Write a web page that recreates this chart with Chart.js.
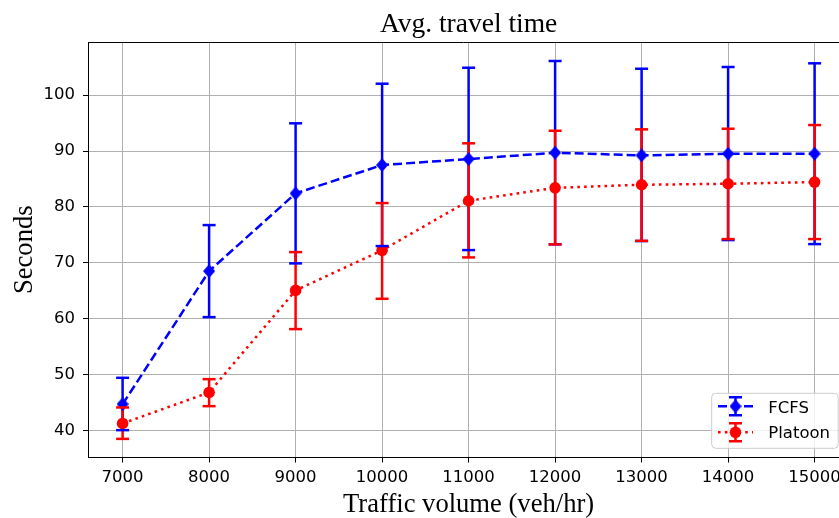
<!DOCTYPE html>
<html>
<head>
<meta charset="utf-8">
<script src="https://cdn.jsdelivr.net/npm/chart.js@4.4.1/dist/chart.umd.min.js"></script>
<style>
html, body { margin: 0; padding: 0; background: #ffffff; overflow: hidden; }
#wrap { width: 839px; height: 518px; }
</style>
</head>
<body>
<div id="wrap"><canvas id="c" width="839" height="518"></canvas></div>
<script>
// ---- data ----
const trafficVolume = [7000, 8000, 9000, 10000, 11000, 12000, 13000, 14000, 15000];
const fcfsMean  = [44.74, 68.53, 82.43, 87.50, 88.57, 89.70, 89.23, 89.52, 89.52];
const fcfsUpper = [49.45, 76.76, 94.96, 102.04, 104.90, 106.10, 104.72, 105.03, 105.69];
const fcfsLower = [40.09, 60.30, 69.91, 73.01, 72.29, 73.31, 73.90, 74.08, 73.36];
const platoonMean  = [41.29, 46.83, 65.08, 72.24, 81.11, 83.43, 83.97, 84.15, 84.45];
const platoonUpper = [44.15, 49.21, 71.93, 80.70, 91.38, 93.63, 93.88, 93.99, 94.65];
const platoonLower = [38.53, 44.38, 58.16, 63.58, 70.98, 73.31, 73.95, 74.26, 74.26];
const xTickValues = [7000, 8000, 9000, 10000, 11000, 12000, 13000, 14000, 15000];
const yTickValues = [40, 50, 60, 70, 80, 90, 100];
const seriesLabels = ['FCFS', 'Platoon'];
const chartTitle = 'Avg. travel time';
const xAxisTitle = 'Traffic volume (veh/hr)';
const yAxisTitle = 'Seconds';

const BLUE = '#0000ff';
const RED = '#ff0000';
const SERIF = '"Liberation Serif", "Times New Roman", serif';
const SANS = '"DejaVu Sans", sans-serif';

// diamond marker as a canvas point style
function makeDiamond(w, h, color) {
  const c = document.createElement('canvas');
  c.width = w; c.height = h;
  const g = c.getContext('2d');
  g.fillStyle = color;
  g.beginPath();
  g.moveTo(w / 2, 0);
  g.lineTo(w, h / 2);
  g.lineTo(w / 2, h);
  g.lineTo(0, h / 2);
  g.closePath();
  g.fill();
  return c;
}
const diamond = makeDiamond(12, 14, BLUE);

const errSeries = [
  { lower: fcfsLower, upper: fcfsUpper, color: BLUE, dataset: 0 },
  { lower: platoonLower, upper: platoonUpper, color: RED, dataset: 1 }
];
const CAP_HALF = 6.5;
const ERR_LW = 2.5;

const errorBarPlugin = {
  id: 'errorBars',
  beforeDatasetsDraw(chart) {
    const ctx = chart.ctx;
    const ys = chart.scales.y;
    ctx.save();
    ctx.lineWidth = ERR_LW;
    ctx.lineCap = 'butt';
    errSeries.forEach(s => {
      const meta = chart.getDatasetMeta(s.dataset);
      ctx.strokeStyle = s.color;
      meta.data.forEach((pt, j) => {
        const y1 = ys.getPixelForValue(s.lower[j]);
        const y2 = ys.getPixelForValue(s.upper[j]);
        ctx.beginPath();
        ctx.moveTo(pt.x, y1);
        ctx.lineTo(pt.x, y2);
        ctx.stroke();
      });
    });
    ctx.restore();
  },
  afterDatasetsDraw(chart) {
    const ctx = chart.ctx;
    const ys = chart.scales.y;
    ctx.save();
    ctx.lineWidth = ERR_LW;
    ctx.lineCap = 'butt';
    errSeries.forEach(s => {
      const meta = chart.getDatasetMeta(s.dataset);
      ctx.strokeStyle = s.color;
      meta.data.forEach((pt, j) => {
        [s.lower[j], s.upper[j]].forEach(v => {
          const y = ys.getPixelForValue(v);
          ctx.beginPath();
          ctx.moveTo(pt.x - CAP_HALF, y);
          ctx.lineTo(pt.x + CAP_HALF, y);
          ctx.stroke();
        });
      });
    });
    ctx.restore();
  }
};

function roundRect(ctx, x, y, w, h, r) {
  ctx.beginPath();
  ctx.moveTo(x + r, y);
  ctx.lineTo(x + w - r, y);
  ctx.quadraticCurveTo(x + w, y, x + w, y + r);
  ctx.lineTo(x + w, y + h - r);
  ctx.quadraticCurveTo(x + w, y + h, x + w - r, y + h);
  ctx.lineTo(x + r, y + h);
  ctx.quadraticCurveTo(x, y + h, x, y + h - r);
  ctx.lineTo(x, y + r);
  ctx.quadraticCurveTo(x, y, x + r, y);
  ctx.closePath();
}

const decorPlugin = {
  id: 'decor',
  afterDraw(chart) {
    const ctx = chart.ctx;
    const a = chart.chartArea;
    const xs = chart.scales.x;
    ctx.save();
    // top spine
    ctx.strokeStyle = '#000000';
    ctx.lineWidth = 1;
    ctx.beginPath();
    ctx.moveTo(a.left, Math.round(a.top) + 0.5);
    ctx.lineTo(a.right, Math.round(a.top) + 0.5);
    ctx.stroke();

    // title and axis titles (centred on the full axes span 6600..15400)
    const cx = xs.getPixelForValue(11000);
    ctx.fillStyle = '#000000';
    ctx.textAlign = 'center';
    ctx.textBaseline = 'alphabetic';
    ctx.font = '27.5px ' + SERIF;
    ctx.fillText(chartTitle, cx, 31.7);
    ctx.font = '26.6px ' + SERIF;
    ctx.fillText(xAxisTitle, cx, 511.7);
    ctx.save();
    ctx.translate(31.5, (a.top + a.bottom) / 2);
    ctx.rotate(-Math.PI / 2);
    ctx.fillText(yAxisTitle, 0, 0);
    ctx.restore();

    // legend
    const lx = 711.7, ly = 393.3, lw = 126.5, lh = 55;
    roundRect(ctx, lx, ly, lw, lh, 4);
    ctx.fillStyle = 'rgba(255,255,255,0.8)';
    ctx.fill();
    ctx.strokeStyle = '#cccccc';
    ctx.lineWidth = 1;
    ctx.stroke();

    const hx0 = 718, hx1 = 753, hcx = 735.5;
    const rows = [
      { y: 406.3, color: BLUE, dash: [9, 4], label: seriesLabels[0], base: 413.3, marker: 'diamond' },
      { y: 432.3, color: RED, dash: [2.6, 4.2], label: seriesLabels[1], base: 438.3, marker: 'circle' }
    ];
    rows.forEach(r => {
      ctx.strokeStyle = r.color;
      ctx.lineWidth = ERR_LW;
      ctx.lineCap = 'butt';
      ctx.setLineDash([]);
      // error bar
      ctx.beginPath();
      ctx.moveTo(hcx, r.y - 9);
      ctx.lineTo(hcx, r.y + 9);
      ctx.moveTo(hcx - CAP_HALF, r.y - 9);
      ctx.lineTo(hcx + CAP_HALF, r.y - 9);
      ctx.moveTo(hcx - CAP_HALF, r.y + 9);
      ctx.lineTo(hcx + CAP_HALF, r.y + 9);
      ctx.stroke();
      // line
      ctx.setLineDash(r.dash);
      ctx.beginPath();
      ctx.moveTo(hx0, r.y);
      ctx.lineTo(hx1, r.y);
      ctx.stroke();
      ctx.setLineDash([]);
      // marker
      ctx.fillStyle = r.color;
      if (r.marker === 'diamond') {
        ctx.drawImage(diamond, hcx - 6, r.y - 7);
      } else {
        ctx.beginPath();
        ctx.arc(hcx, r.y, 5.8, 0, Math.PI * 2);
        ctx.fill();
      }
      // text
      ctx.fillStyle = '#000000';
      ctx.font = '16.5px ' + SANS;
      ctx.textAlign = 'left';
      ctx.textBaseline = 'alphabetic';
      ctx.fillText(r.label, 768.3, r.base);
    });
    ctx.restore();
  }
};

const ctx = document.getElementById('c').getContext('2d');
new Chart(ctx, {
  type: 'line',
  data: {
    datasets: [
      {
        label: seriesLabels[0],
        data: trafficVolume.map((x, i) => ({ x: x, y: fcfsMean[i] })),
        borderColor: BLUE,
        backgroundColor: BLUE,
        borderWidth: 2.5,
        borderDash: [9, 4],
        borderCapStyle: 'butt',
        tension: 0,
        fill: false,
        pointStyle: diamond,
        pointRadius: 7,
        pointBackgroundColor: BLUE,
        pointBorderWidth: 0,
        order: 1
      },
      {
        label: seriesLabels[1],
        data: trafficVolume.map((x, i) => ({ x: x, y: platoonMean[i] })),
        borderColor: RED,
        backgroundColor: RED,
        borderWidth: 2.5,
        borderDash: [2.6, 4.2],
        borderCapStyle: 'butt',
        tension: 0,
        fill: false,
        pointStyle: 'circle',
        pointRadius: 5.8,
        pointBackgroundColor: RED,
        pointBorderWidth: 0,
        order: 0
      }
    ]
  },
  options: {
    responsive: false,
    animation: false,
    events: [],
    layout: { autoPadding: false, padding: { top: 42, left: 0, right: 0, bottom: 0 } },
    plugins: {
      legend: { display: false },
      title: { display: false },
      tooltip: { enabled: false }
    },
    scales: {
      x: {
        type: 'linear',
        min: 6600,
        max: 15282,
        afterBuildTicks: s => { s.ticks = xTickValues.map(v => ({ value: v })); },
        afterFit: s => { s.height = 60.5; s.paddingLeft = 0; s.paddingRight = 0; },
        grid: { color: '#b0b0b0', lineWidth: 1, tickLength: 5, tickColor: '#000000', tickWidth: 1 },
        border: { display: true, color: '#000000', width: 1 },
        ticks: {
          color: '#000000',
          font: { family: SANS, size: 16.5 },
          padding: 5,
          maxRotation: 0,
          autoSkip: false,
          callback: v => String(v)
        }
      },
      y: {
        type: 'linear',
        min: 35.2,
        max: 109.5,
        afterBuildTicks: s => { s.ticks = yTickValues.map(v => ({ value: v })); },
        afterFit: s => { s.width = 88; s.paddingTop = 0; s.paddingBottom = 0; },
        grid: { color: '#b0b0b0', lineWidth: 1, tickLength: 5, tickColor: '#000000', tickWidth: 1 },
        border: { display: true, color: '#000000', width: 1 },
        ticks: {
          color: '#000000',
          font: { family: SANS, size: 16.5 },
          padding: 8,
          autoSkip: false,
          callback: v => String(v)
        }
      }
    }
  },
  plugins: [errorBarPlugin, decorPlugin]
});
</script>
</body>
</html>
